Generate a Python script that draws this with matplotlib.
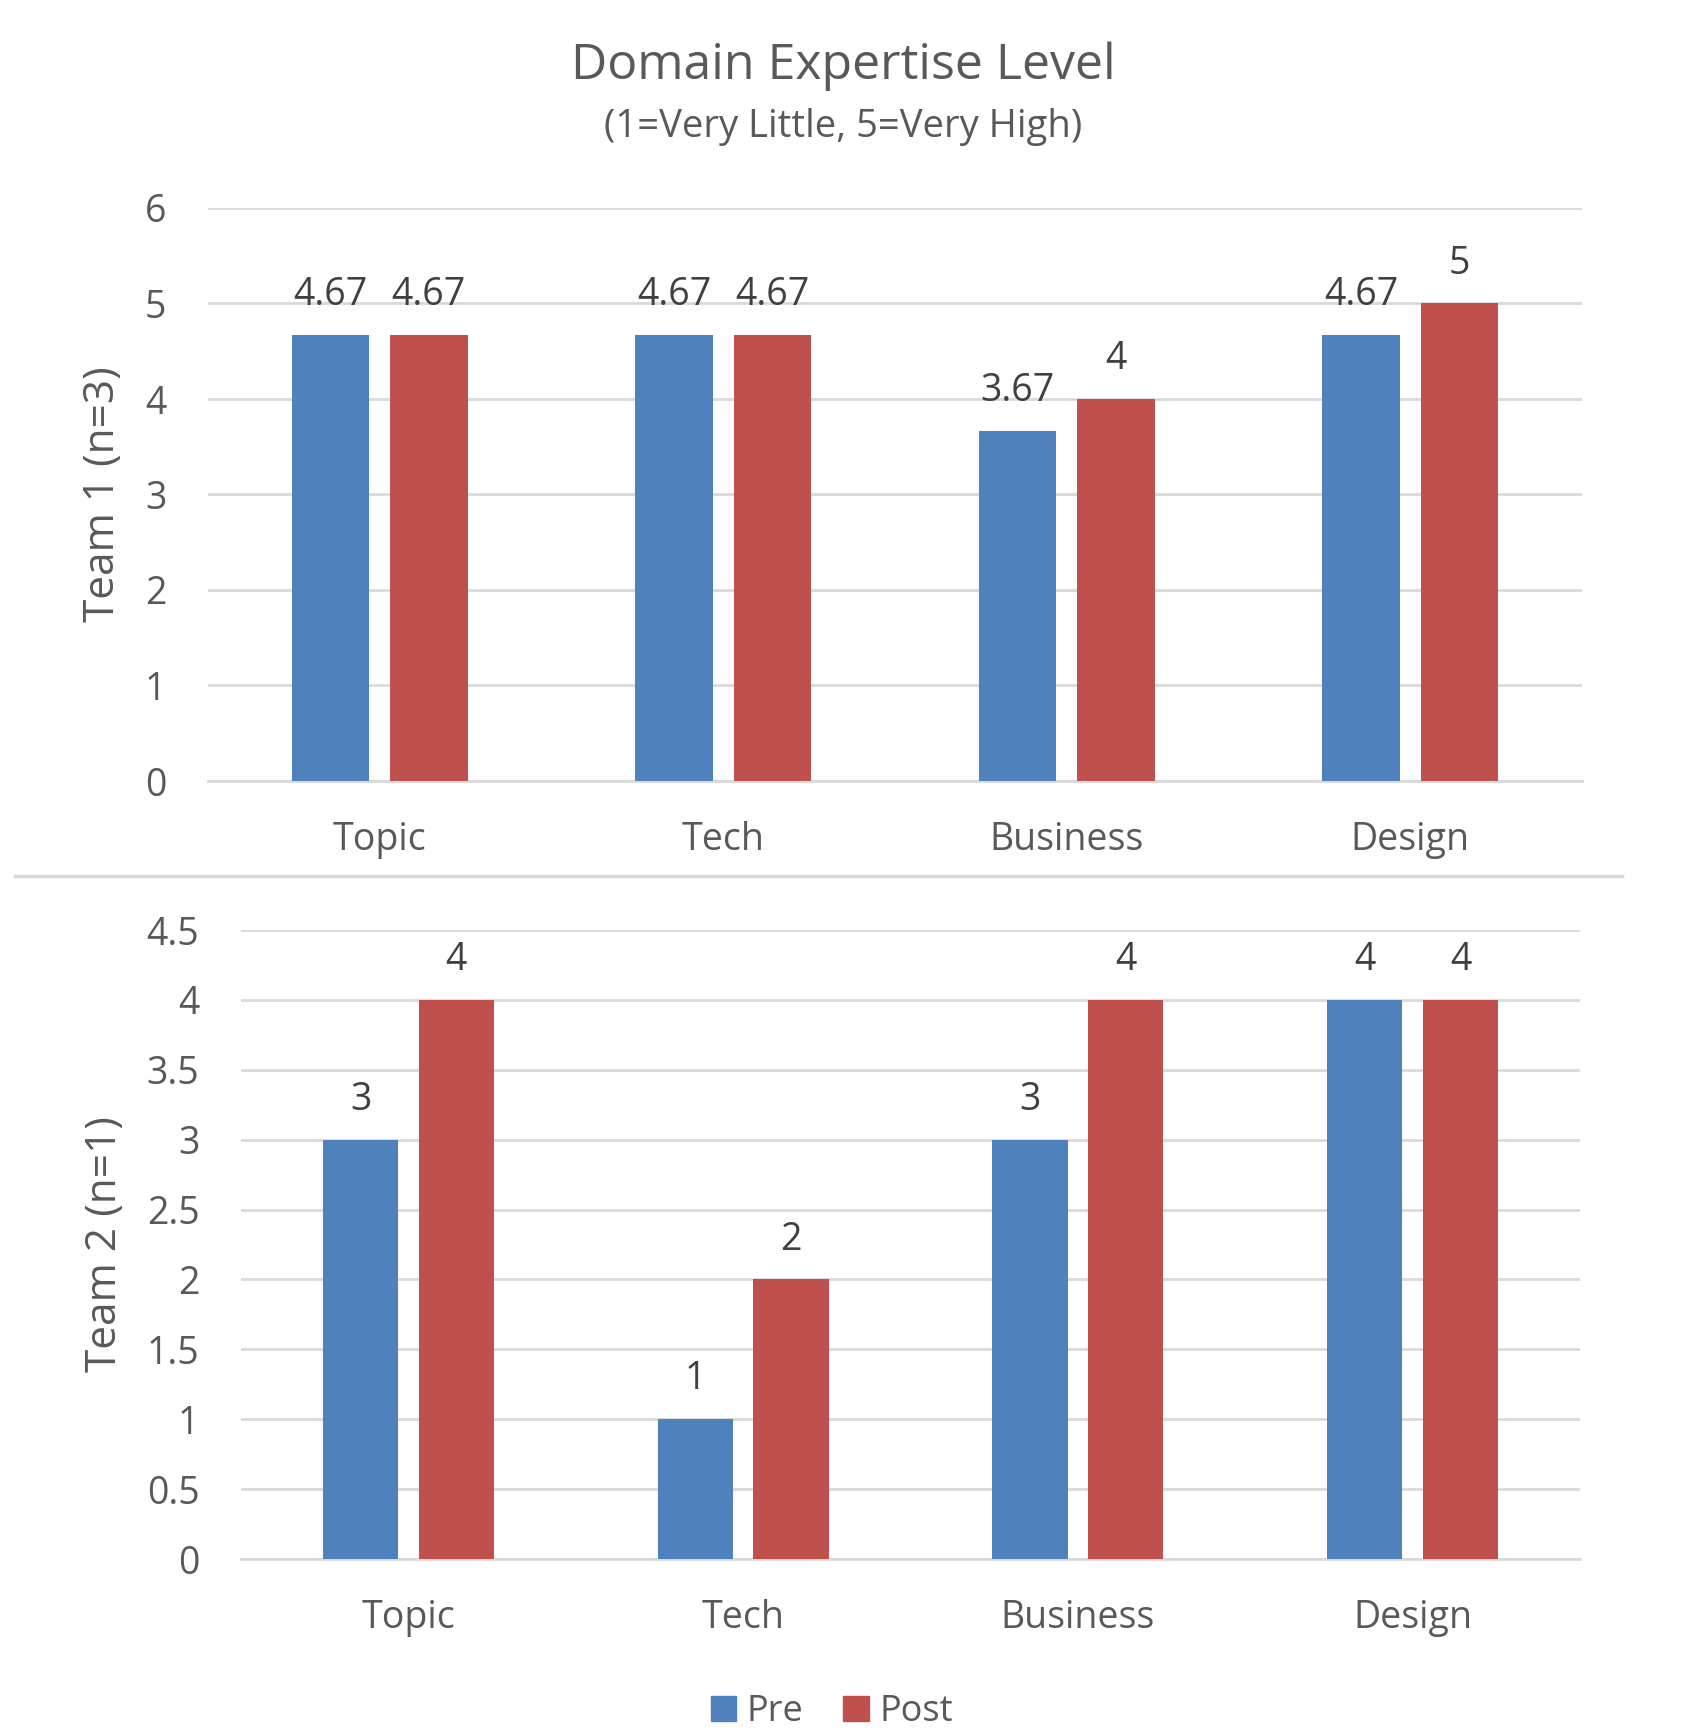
import matplotlib
matplotlib.use("Agg")
import matplotlib.pyplot as plt
import numpy as np
from matplotlib.lines import Line2D
from matplotlib.patches import Patch

categories = ["Topic", "Tech", "Business", "Design"]
team1_pre = [4.67, 4.67, 3.67, 4.67]
team1_post = [4.67, 4.67, 4.0, 5.0]
team2_pre = [3, 1, 3, 4]
team2_post = [4, 2, 4, 4]
team1_labels_pre = ["4.67", "4.67", "3.67", "4.67"]
team1_labels_post = ["4.67", "4.67", "4", "5"]
team2_labels_pre = ["3", "1", "3", "4"]
team2_labels_post = ["4", "2", "4", "4"]
series_names = ["Pre", "Post"]

plt.rcParams['font.family'] = ['Open Sans', 'DejaVu Sans']
TXT = "#595959"
GRID = "#d9d9d9"
C_PRE = "#4F81BD"
C_POST = "#C0504D"

fig = plt.figure(figsize=(17.04, 17.35), dpi=100)

W = 1704.0
H = 1735.0
def ax_rect(l, r, t, b):
    return [l / W, 1 - b / H, (r - l) / W, (b - t) / H]

ax1 = fig.add_axes(ax_rect(208, 1582, 208, 781))
ax2 = fig.add_axes(ax_rect(241, 1580, 930, 1559))

def style(ax, pre, post, lpre, lpost, ymax, step, yticklabels):
    x = np.arange(len(categories))
    bw = 0.225
    off = 0.143
    ax.bar(x - off, pre, bw, color=C_PRE, zorder=3)
    ax.bar(x + off, post, bw, color=C_POST, zorder=3)
    for xi, v, s in zip(x - off, pre, lpre):
        ax.annotate(s, (xi, v), xytext=(0, 15), textcoords="offset points",
                    ha="center", va="bottom", fontsize=27, color="#404040")
    for xi, v, s in zip(x + off, post, lpost):
        ax.annotate(s, (xi, v), xytext=(0, 15), textcoords="offset points",
                    ha="center", va="bottom", fontsize=27, color="#404040")
    ax.set_xlim(-0.5, len(categories) - 0.5)
    ax.set_ylim(0, ymax)
    ticks = np.arange(0, ymax + 1e-9, step)
    ax.set_yticks(ticks)
    ax.set_yticklabels(yticklabels)
    ax.set_xticks(x)
    ax.set_xticklabels(categories)
    ax.tick_params(axis="y", length=0, pad=30, labelsize=27, labelcolor=TXT)
    ax.tick_params(axis="x", length=0, pad=29, labelsize=27, labelcolor=TXT)
    for sp in ["top", "right", "left"]:
        ax.spines[sp].set_visible(False)
    ax.spines["bottom"].set_color(GRID)
    ax.spines["bottom"].set_linewidth(2)
    ax.grid(axis="y", color=GRID, linewidth=2, zorder=0)
    ax.set_axisbelow(True)

style(ax1, team1_pre, team1_post, team1_labels_pre, team1_labels_post, 6, 1,
      ["0", "1", "2", "3", "4", "5", "6"])
style(ax2, team2_pre, team2_post, team2_labels_pre, team2_labels_post, 4.5, 0.5,
      ["0", "0.5", "1", "1.5", "2", "2.5", "3", "3.5", "4", "4.5"])

fig.text(103 / W, 1 - 494.5 / H, "Team 1 (n=3)", rotation=90, ha="center", va="center",
         fontsize=30.5, color=TXT)
fig.text(105 / W, 1 - 1244.5 / H, "Team 2 (n=1)", rotation=90, ha="center", va="center",
         fontsize=30.5, color=TXT)

fig.text(843 / W, 1 - 66 / H, "Domain Expertise Level", ha="center", va="center",
         fontsize=36, color=TXT)
fig.text(843 / W, 1 - 127 / H, "(1=Very Little, 5=Very High)", ha="center", va="center",
         fontsize=27.5, color=TXT)

fig.add_artist(Line2D([15 / W, 1622 / W], [1 - 876 / H, 1 - 876 / H],
                      color=GRID, linewidth=2.5, transform=fig.transFigure))

handles = [Patch(color=C_PRE), Patch(color=C_POST)]
fig.legend(handles, series_names, loc="center", bbox_to_anchor=(832 / W, 1 - 1712 / H),
           ncol=2, frameon=False, fontsize=26, handlelength=0.7, handleheight=0.7,
           handletextpad=0.3, columnspacing=1.1, labelcolor=TXT)

fig.savefig("out.png", dpi=100)
